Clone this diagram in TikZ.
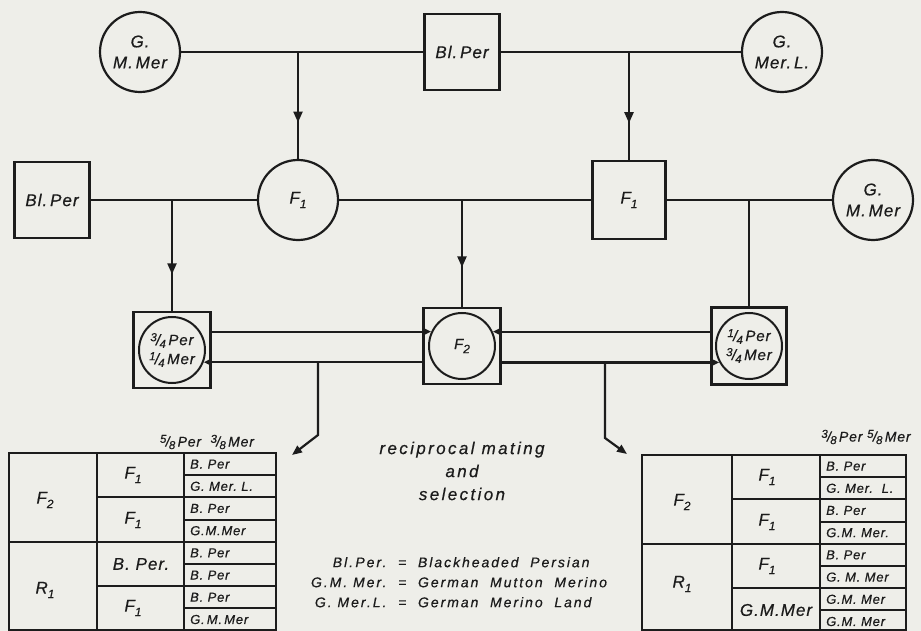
\documentclass[tikz,border=0pt]{standalone}
\usepackage{fontspec}
\setmainfont{Liberation Sans}[LetterSpace=6, FakeBold=0.5]
\newfontfamily\widefont{Liberation Sans}[LetterSpace=14, FakeBold=0.5]
\usetikzlibrary{arrows.meta,decorations.markings}
\definecolor{bgc}{RGB}{238,238,233}
\definecolor{ink}{RGB}{28,28,28}
\newcommand\myfrac[2]{\raisebox{0.5ex}{\fontsize{11.5}{11}\selectfont #1}\kern-0.05em/\kern-0.05em\raisebox{-0.35ex}{\fontsize{11.5}{11}\selectfont #2}}
\newcommand\mysub[1]{\raisebox{-0.5ex}{\fontsize{12}{12}\selectfont #1}}
\tikzset{
  lab/.style={font=\fontsize{17}{21}\selectfont\itshape, align=center, text=ink},
  circ/.style={circle, draw=ink, line width=2.2pt, minimum size=80pt, inner sep=0pt, lab},
  sqbox/.style={rectangle, draw=ink, line width=2.2pt, minimum width=75pt, minimum height=76pt, inner sep=0pt, lab},
  incirc/.style={circle, draw=ink, line width=2pt, minimum size=66pt, inner sep=0pt, lab, font=\fontsize{15}{19}\selectfont\itshape},
  conn/.style={draw=ink, line width=2.2pt},
  tri/.style={-{Triangle[length=8pt,width=7pt]}},
  bendarrow/.style={-{Triangle[length=10pt,width=8pt]}},
  midarrow/.style={postaction=decorate, decoration={markings, mark=at position #1 with {\arrow[ink]{Triangle[length=11pt,width=9pt]}}}},
  tab/.style={draw=ink, line width=2pt},
  cell/.style={font=\fontsize{13}{13}\selectfont\itshape, anchor=west, inner sep=0pt, text=ink},
  bigcell/.style={font=\fontsize{17}{17}\selectfont\itshape, inner sep=0pt, text=ink},
  txt/.style={font=\widefont\fontsize{17}{23}\selectfont\itshape, align=center, text=ink, inner sep=0pt},
  toplab/.style={font=\fontsize{14}{14}\selectfont\itshape, inner sep=0pt, text=ink}
}
\begin{document}
\begin{tikzpicture}[x=1pt,y=-1pt]
\fill[bgc] (0,0) rectangle (921,631);
\useasboundingbox (0,0) rectangle (921,631);
% top row
\node[circ] (gmm1) at (140,52) {G.\\M.\,Mer};
\node[sqbox] (blper1) at (462,52) {Bl.\,Per};
\node[circ] (gml) at (782,52) {G.\\Mer.\,L.};
\draw[conn] (gmm1) -- (blper1);
\draw[conn] (blper1) -- (gml);
% second row
\node[sqbox] (blper2) at (52,200) {Bl.\,Per};
\node[circ] (f1c) at (298,200) {F\mysub{1}};
\node[sqbox, minimum width=73pt, minimum height=78pt] (f1b) at (629,200) {F\mysub{1}};
\node[circ] (gmm2) at (873,200) {G.\\M.\,Mer};
\coordinate (j1) at (298,52);
\coordinate (j2) at (629,52);
\draw[conn, midarrow=0.66] (j1) -- (f1c.north);
\draw[conn, midarrow=0.66] (j2) -- (f1b.north);
\draw[conn] (blper2) -- (f1c);
\draw[conn] (f1c) -- (f1b);
\draw[conn] (f1b) -- (gmm2);
% third row
\node[sqbox, minimum width=77pt] (b3l) at (172,350) {};
\node[incirc] (c3l) at (b3l) {\myfrac{3}{4}\,Per\\\myfrac{1}{4}\,Mer};
\node[sqbox, minimum width=77pt] (bf2) at (462,346) {};
\node[incirc] (cf2) at (bf2) {F\mysub{2}};
\node[sqbox, minimum width=75pt, minimum height=77pt] (b3r) at (749,346) {};
\node[incirc] (c3r) at (b3r) {\myfrac{1}{4}\,Per\\\myfrac{3}{4}\,Mer};
\coordinate (j3) at (172,200);
\coordinate (j4) at (462,200);
\coordinate (j5) at (749,200);
\draw[conn, midarrow=0.67] (j3) -- (b3l.north);
\draw[conn, midarrow=0.63] (j4) -- (bf2.north);
\draw[conn] (j5) -- (b3r.north);
\draw[conn, tri] (b3l.east |- cf2.155) -- (cf2.155);
\draw[conn, tri] (bf2.west |- c3l.-21) -- (c3l.-21);
\draw[conn, tri] (b3r.west |- cf2.25) -- (cf2.25);
\draw[conn, tri] (bf2.east |- c3r.209) -- (c3r.209);
% branches to tables
\coordinate (j6) at (318,362);
\coordinate (k6) at (318,435);
\coordinate (t6) at (292,455);
\draw[conn, bendarrow] (j6) -- (k6) -- (t6);
\coordinate (j7) at (605,362);
\coordinate (k7) at (605,438);
\coordinate (t7) at (627,454);
\draw[conn, bendarrow] (j7) -- (k7) -- (t7);
% centre texts
\node[txt] (recip) at (462,471) {reciprocal mating\\and\\selection};
\node[font=\widefont\fontsize{14}{20}\selectfont\itshape, text=ink, inner sep=0pt, anchor=north] (legend) at (459,553)
  {\begin{tabular}{@{}r@{\ \ =\ \ }l@{}}
   Bl.\,Per. & Blackheaded\ \ Persian\\
   G.M.\ Mer. & German\ \ Mutton\ \ Merino\\
   G.\ Mer.L. & German\ \ Merino\ \ Land
   \end{tabular}};
% left table
\node[toplab] (ltop) at (207,442) {\myfrac{5}{8}\,Per\ \ \myfrac{3}{8}\,Mer};
\draw[tab] (9,453) rectangle (276,630);
\draw[tab] (97,453) -- (97,630);
\draw[tab] (184,453) -- (184,630);
\draw[tab] (9,541.8) -- (276,541.8);
\draw[tab] (97,497.4) -- (276,497.4);
\draw[tab] (97,586.2) -- (276,586.2);
\foreach \k in {1,3,5,7} \draw[tab] (184,{453+\k*22.2}) -- (276,{453+\k*22.2});
\foreach \t [count=\i from 0] in {B.\ Per, G.\ Mer.\ L., B.\ Per, G.M.Mer, B.\ Per, B.\ Per, B.\ Per, G.\,M.\,Mer}
  \node[cell] (L\i) at (190,{453+(\i+0.5)*22.2}) {\t};
\node[bigcell] (lf2) at (45,500) {F\mysub{2}};
\node[bigcell] (lr1) at (45,590) {R\mysub{1}};
\node[bigcell] (lc1) at (133,475) {F\mysub{1}};
\node[bigcell] (lc2) at (133,520) {F\mysub{1}};
\node[bigcell] (lc3) at (141,564) {B.\ Per.};
\node[bigcell] (lc4) at (133,608) {F\mysub{1}};
% right table
\node[toplab] (rtop) at (866,437) {\myfrac{3}{8}\,Per\ \myfrac{5}{8}\,Mer};
\draw[tab] (642,455) rectangle (906,630);
\draw[tab] (732,455) -- (732,630);
\draw[tab] (820,455) -- (820,630);
\draw[tab] (642,543.8) -- (906,543.8);
\draw[tab] (732,499.4) -- (906,499.4);
\draw[tab] (732,588.2) -- (906,588.2);
\foreach \k in {1,3,5,7} \draw[tab] (820,{455+\k*22.2}) -- (906,{455+\k*22.2});
\foreach \t [count=\i from 0] in {B.\ Per, G.\ Mer.\ \ L., B.\ Per, G.M.\ Mer., B.\ Per, G.\ M.\ Mer, G.M.\ Mer, G.M.\ Mer}
  \node[cell] (R\i) at (826,{455+(\i+0.5)*22.2}) {\t};
\node[bigcell] (rf2) at (682,502) {F\mysub{2}};
\node[bigcell] (rr1) at (682,584) {R\mysub{1}};
\node[bigcell] (rc1) at (767,477) {F\mysub{1}};
\node[bigcell] (rc2) at (767,522) {F\mysub{1}};
\node[bigcell] (rc3) at (767,566) {F\mysub{1}};
\node[bigcell] (rc4) at (776,610) {G.M.Mer};
\end{tikzpicture}
\end{document}
